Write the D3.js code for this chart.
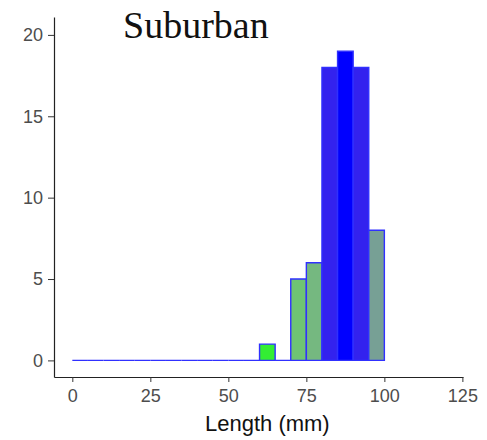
<!DOCTYPE html>
<html>
<head>
<meta charset="utf-8">
<script src="https://cdn.jsdelivr.net/npm/d3@7"></script>
<style>
  body { margin: 0; background: #fff; }
  svg { display: block; }
</style>
</head>
<body>
<svg id="chart"></svg>
<script>
// bins of 5 mm, 0..100
const binStarts = d3.range(0, 100, 5);
const counts = [0, 0, 0, 0, 0, 0, 0, 0, 0, 0, 0, 0, 1, 0, 5, 6, 18, 19, 18, 8];
const binFills = {
  60: "#33ee33", 70: "#6fc473", 75: "#75b880",
  80: "#3322ee", 85: "#0000ff", 90: "#3322ee", 95: "#77a095"
};
const xTicks = [0, 25, 50, 75, 100, 125];
const yTicks = [0, 5, 10, 15, 20];

const W = 487, H = 440;
const svg = d3.select("#chart").attr("width", W).attr("height", H);

const x = d3.scaleLinear().domain([-5.87, 125.2]).range([54, 463]);
const y = d3.scaleLinear().domain([-1.02, 21.1]).range([377, 17]);

// bars
svg.append("g")
  .selectAll("path")
  .data(binStarts.map((s, i) => ({ start: s, n: counts[i] })))
  .join("path")
  .attr("d", d => `M${x(d.start)},${y(0)}H${x(d.start + 5)}V${y(d.n)}H${x(d.start)}Z`)
  .attr("fill", d => binFills[d.start] || "none")
  .attr("stroke", "#3030ff")
  .attr("stroke-width", 1.4);

// axes
const xAxis = svg.append("g")
  .attr("transform", `translate(0,${y.range()[0]})`)
  .call(d3.axisBottom(x).tickValues(xTicks).tickSize(5).tickSizeOuter(0).tickPadding(7));
const yAxis = svg.append("g")
  .attr("transform", `translate(${x.range()[0]},0)`)
  .call(d3.axisLeft(y).tickValues(yTicks).tickSize(6).tickSizeOuter(0).tickPadding(5));

[xAxis, yAxis].forEach(a => {
  a.select(".domain").attr("stroke", "#222").attr("stroke-width", 1.2);
  a.selectAll(".tick line").attr("stroke", "#333");
  a.selectAll(".tick text")
    .attr("fill", "#4d4d4d")
    .style("font-family", "Liberation Sans, Arial, sans-serif")
    .style("font-size", "18px");
});

svg.append("text")
  .attr("x", (x(0) + x(125)) / 2)
  .attr("y", 431)
  .attr("text-anchor", "middle")
  .style("font-family", "Liberation Sans, Arial, sans-serif")
  .style("font-size", "22px")
  .attr("fill", "#111")
  .text("Length (mm)");

svg.append("text")
  .attr("x", 123)
  .attr("y", 38)
  .style("font-family", "Liberation Serif, serif")
  .style("font-size", "38px")
  .attr("fill", "#111")
  .text("Suburban");
</script>
</body>
</html>
